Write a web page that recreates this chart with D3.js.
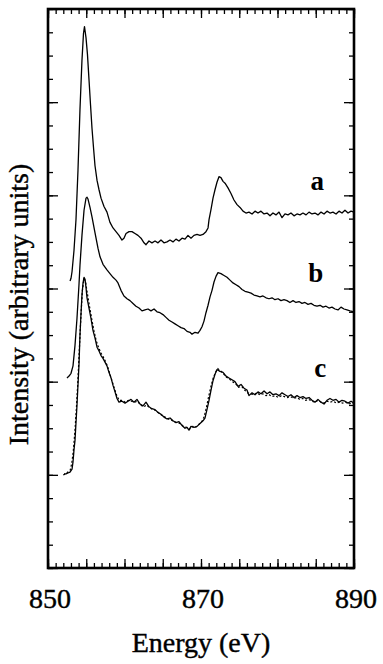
<!DOCTYPE html>
<html><head><meta charset="utf-8">
<script src="https://cdn.jsdelivr.net/npm/d3@7/dist/d3.min.js"></script>
<style>
html,body{margin:0;padding:0;background:#fff;}
svg{display:block;}
</style></head>
<body>
<script>
// ---- data ----
const xLabels = [850, 870, 890];
const seriesNames = ["a", "b", "c"];
const labelPos = [[885.2, 4.06], [885.0, 3.07], [885.6, 2.05]];

const seriesA = [
[852.88,3.08],[853.01,3.11],[853.14,3.18],[853.40,3.41],[853.66,3.74],[853.92,4.27],[854.18,4.92],[854.44,5.45],[854.64,5.74],[854.77,5.81],[854.97,5.69],[855.16,5.51],[855.36,5.24],[855.56,4.97],[855.75,4.72],[855.95,4.51],[856.14,4.32],[856.41,4.16],[856.67,4.06],[856.93,3.97],[857.32,3.88],[857.71,3.82],[858.10,3.71],[858.50,3.65],[858.89,3.61],[859.28,3.57],[859.67,3.52],[859.93,3.54],[860.20,3.59],[860.59,3.61],[860.98,3.61],[861.37,3.59],[861.76,3.57],[862.16,3.54],[862.55,3.49],[862.81,3.47],[863.20,3.51],[863.59,3.49],[863.99,3.51],[864.38,3.49],[864.77,3.52],[865.16,3.49],[865.56,3.50],[865.95,3.52],[866.34,3.50],[866.73,3.53],[867.12,3.51],[867.52,3.54],[867.91,3.53],[868.30,3.57],[868.69,3.54],[869.08,3.57],[869.48,3.58],[869.87,3.57],[870.26,3.58],[870.65,3.61],[870.92,3.65],[871.05,3.74],[871.31,3.85],[871.57,3.97],[871.83,4.06],[872.09,4.14],[872.35,4.20],[872.61,4.19],[872.88,4.15],[873.14,4.13],[873.53,4.08],[873.92,4.02],[874.31,3.95],[874.71,3.90],[875.10,3.87],[875.49,3.83],[875.88,3.81],[876.27,3.82],[876.67,3.80],[877.06,3.83],[877.45,3.81],[877.84,3.83],[878.24,3.80],[878.63,3.81],[879.02,3.78],[879.41,3.81],[879.80,3.79],[880.20,3.82],[880.59,3.76],[880.98,3.80],[881.37,3.79],[881.76,3.81],[882.16,3.78],[882.55,3.80],[882.94,3.79],[883.33,3.81],[883.73,3.79],[884.12,3.82],[884.51,3.80],[884.90,3.81],[885.29,3.79],[885.69,3.82],[886.08,3.80],[886.47,3.83],[886.86,3.81],[887.25,3.82],[887.65,3.80],[888.04,3.83],[888.43,3.81],[888.82,3.84],[889.22,3.81],[889.61,3.83],[890.00,3.82]
];

const seriesB = [
[852.48,2.04],[852.75,2.06],[853.01,2.09],[853.27,2.17],[853.53,2.39],[853.79,2.68],[854.05,3.04],[854.18,3.25],[854.44,3.57],[854.71,3.84],[854.97,3.97],[855.10,3.98],[855.23,3.96],[855.49,3.87],[855.75,3.77],[856.14,3.60],[856.54,3.43],[856.80,3.34],[857.19,3.26],[857.71,3.20],[858.10,3.16],[858.50,3.12],[858.89,3.09],[859.15,3.06],[859.54,2.98],[859.93,2.92],[860.33,2.89],[860.72,2.87],[861.11,2.84],[861.50,2.81],[861.90,2.79],[862.29,2.76],[862.68,2.77],[863.07,2.78],[863.46,2.76],[863.86,2.78],[864.25,2.75],[864.64,2.74],[865.03,2.72],[865.42,2.69],[865.82,2.66],[866.21,2.64],[866.60,2.62],[866.99,2.60],[867.39,2.58],[867.78,2.57],[868.17,2.54],[868.56,2.53],[868.82,2.51],[869.22,2.53],[869.61,2.52],[869.87,2.55],[870.13,2.59],[870.39,2.65],[870.65,2.74],[870.92,2.82],[871.18,2.91],[871.44,2.98],[871.70,3.07],[871.96,3.13],[872.22,3.17],[872.61,3.16],[873.01,3.14],[873.40,3.12],[873.79,3.09],[874.18,3.06],[874.58,3.04],[874.97,3.02],[875.36,2.99],[875.75,2.97],[876.14,2.96],[876.54,2.95],[876.93,2.93],[877.32,2.92],[877.71,2.91],[878.10,2.92],[878.50,2.90],[878.89,2.89],[879.28,2.90],[879.67,2.88],[880.07,2.89],[880.46,2.87],[880.85,2.88],[881.24,2.87],[881.63,2.85],[882.03,2.87],[882.42,2.85],[882.81,2.86],[883.20,2.84],[883.59,2.85],[883.99,2.83],[884.38,2.84],[884.77,2.82],[885.16,2.81],[885.56,2.82],[885.95,2.80],[886.34,2.81],[886.73,2.79],[887.12,2.80],[887.52,2.78],[887.91,2.77],[888.30,2.80],[888.69,2.78],[889.08,2.77],[889.48,2.76],[890.00,2.75]
];

const seriesC = [
[852.09,1.01],[852.35,1.01],[852.61,1.02],[852.88,1.03],[853.14,1.06],[853.27,1.14],[853.40,1.27],[853.53,1.37],[853.79,1.75],[854.05,2.18],[854.18,2.50],[854.31,2.72],[854.44,2.93],[854.58,3.06],[854.71,3.12],[854.84,3.10],[854.97,3.01],[855.10,2.90],[855.36,2.79],[855.62,2.68],[855.88,2.55],[856.14,2.47],[856.41,2.37],[856.67,2.33],[856.93,2.28],[857.19,2.25],[857.45,2.21],[857.71,2.17],[857.97,2.10],[858.24,2.04],[858.50,1.96],[858.76,1.89],[859.02,1.82],[859.28,1.78],[859.67,1.79],[860.07,1.77],[860.46,1.79],[860.85,1.81],[861.24,1.78],[861.63,1.81],[862.03,1.76],[862.42,1.74],[862.81,1.78],[863.20,1.73],[863.59,1.71],[863.99,1.70],[864.38,1.67],[864.77,1.65],[865.16,1.62],[865.56,1.60],[865.95,1.61],[866.34,1.58],[866.73,1.56],[867.12,1.57],[867.52,1.53],[867.91,1.50],[868.17,1.51],[868.43,1.48],[868.69,1.52],[869.08,1.51],[869.48,1.52],[869.87,1.55],[870.26,1.58],[870.52,1.61],[870.78,1.70],[871.05,1.80],[871.31,1.91],[871.57,2.01],[871.83,2.08],[872.09,2.13],[872.48,2.11],[872.88,2.10],[873.27,2.06],[873.66,2.04],[874.05,2.02],[874.44,2.00],[874.84,1.95],[875.23,1.97],[875.62,1.93],[876.01,1.91],[876.27,1.85],[876.67,1.88],[877.06,1.86],[877.45,1.89],[877.84,1.87],[878.24,1.90],[878.63,1.87],[879.02,1.89],[879.41,1.86],[879.80,1.87],[880.20,1.85],[880.59,1.88],[880.98,1.86],[881.37,1.84],[881.76,1.86],[882.16,1.83],[882.55,1.85],[882.94,1.83],[883.33,1.84],[883.73,1.82],[884.12,1.83],[884.51,1.80],[884.90,1.78],[885.29,1.81],[885.69,1.78],[886.08,1.76],[886.47,1.80],[886.86,1.82],[887.25,1.80],[887.65,1.81],[888.04,1.78],[888.43,1.80],[888.82,1.79],[889.22,1.77],[889.61,1.79],[890.00,1.77]
];

const seriesCfit = [
[852.0,1.00],[852.3,1.01],[852.6,1.03],[852.9,1.05],[853.1,1.12],[853.3,1.25],[853.5,1.45],[853.7,1.70],[853.9,2.00],[854.1,2.35],[854.3,2.70],[854.5,2.98],[854.7,3.10],[854.9,3.08],[855.1,2.97],[855.4,2.82],[855.7,2.68],[856.0,2.55],[856.3,2.44],[856.6,2.37],[856.9,2.31],[857.2,2.27],[857.5,2.22],[857.8,2.16],[858.1,2.08],[858.4,2.00],[858.7,1.92],[859.0,1.85],[859.3,1.80],[859.7,1.80],[860.1,1.78],[860.5,1.80],[860.9,1.79],[861.3,1.78],[861.7,1.79],[862.1,1.75],[862.5,1.73],[862.9,1.75],[863.3,1.72],[863.7,1.70],[864.1,1.69],[864.5,1.66],[864.9,1.64],[865.3,1.62],[865.7,1.60],[866.1,1.59],[866.5,1.57],[866.9,1.56],[867.3,1.55],[867.7,1.52],[868.1,1.51],[868.5,1.49],[868.9,1.52],[869.3,1.51],[869.7,1.54],[870.1,1.57],[870.4,1.62],[870.7,1.72],[871.0,1.84],[871.3,1.95],[871.6,2.04],[871.9,2.10],[872.2,2.14],[872.5,2.12],[872.9,2.09],[873.3,2.05],[873.7,2.03],[874.1,2.00],[874.5,1.98],[874.9,1.94],[875.3,1.95],[875.7,1.91],[876.1,1.88],[876.5,1.87],[876.9,1.86],[877.3,1.88],[877.7,1.86],[878.1,1.87],[878.5,1.85],[878.9,1.86],[879.3,1.84],[879.7,1.85],[880.1,1.83],[880.5,1.85],[880.9,1.84],[881.3,1.83],[881.7,1.84],[882.1,1.82],[882.5,1.83],[882.9,1.81],[883.3,1.82],[883.7,1.80],[884.1,1.81],[884.5,1.79],[884.9,1.78],[885.3,1.80],[885.7,1.78],[886.1,1.77],[886.5,1.79],[886.9,1.78],[887.3,1.79],[887.7,1.77],[888.1,1.78],[888.5,1.77],[888.9,1.78],[889.3,1.76],[889.7,1.77],[890.0,1.76]
];

// ---- chart ----
const W = 383, H = 664;
const svg = d3.select("body").append("svg").attr("width", W).attr("height", H);
const x = d3.scaleLinear().domain([850, 890]).range([48, 354]);
const y = d3.scaleLinear().domain([0, 6]).range([568, 9]);
const FONT = "'Liberation Serif','Times New Roman',serif";

const xMinor = d3.range(850, 891, 1), xMajor = d3.range(850, 891, 5);
const yMinor = d3.range(0, 6.001, 0.25), yMajor = d3.range(0, 7, 1);

function addAxis(gen, tr, vals, size) {
  const g = svg.append("g").attr("transform", tr)
    .call(gen.tickValues(vals).tickSize(size).tickFormat(""));
  g.select(".domain").remove();
  g.selectAll("line").attr("stroke", "#000").attr("stroke-width", 1.3);
}
addAxis(d3.axisBottom(x), `translate(0,${y(0)})`, xMinor, -5);
addAxis(d3.axisBottom(x), `translate(0,${y(0)})`, xMajor, -9);
addAxis(d3.axisTop(x), `translate(0,${y(6)})`, xMinor, -5);
addAxis(d3.axisTop(x), `translate(0,${y(6)})`, xMajor, -9);
addAxis(d3.axisLeft(y), `translate(${x(850)},0)`, yMinor, -5);
addAxis(d3.axisLeft(y), `translate(${x(850)},0)`, yMajor, -10);
addAxis(d3.axisRight(y), `translate(${x(890)},0)`, yMinor, -5);
addAxis(d3.axisRight(y), `translate(${x(890)},0)`, yMajor, -10);

// frame
svg.append("rect")
  .attr("x", x(850)).attr("y", y(6))
  .attr("width", x(890) - x(850)).attr("height", y(0) - y(6))
  .attr("fill", "none").attr("stroke", "#000").attr("stroke-width", 2.6);

// x tick labels
svg.append("g").selectAll("text").data(xLabels).join("text")
  .attr("x", d => x(d) + 2).attr("y", 608)
  .attr("text-anchor", "middle")
  .attr("font-family", FONT).attr("font-size", 28)
  .attr("stroke", "#000").attr("stroke-width", 0.4)
  .text(d => d);

svg.append("text").attr("x", (x(850) + x(890)) / 2).attr("y", 652)
  .attr("text-anchor", "middle").attr("font-family", FONT).attr("font-size", 28)
  .attr("stroke", "#000").attr("stroke-width", 0.4)
  .text("Energy (eV)");

svg.append("text")
  .attr("transform", `translate(28,${(y(0) + y(6)) / 2 + 16}) rotate(-90)`)
  .attr("text-anchor", "middle").attr("font-family", FONT).attr("font-size", 28)
  .attr("stroke", "#000").attr("stroke-width", 0.4)
  .text("Intensity (arbitrary units)");

// curves
const line = d3.line().x(d => x(d[0])).y(d => y(d[1]));
svg.append("path").datum(seriesCfit).attr("d", line)
  .attr("fill", "none").attr("stroke", "#000").attr("stroke-width", 1.2)
  .attr("stroke-dasharray", "2,2");
[seriesA, seriesB, seriesC].forEach(s => {
  svg.append("path").datum(s).attr("d", line)
    .attr("fill", "none").attr("stroke", "#000").attr("stroke-width", 1.3)
    .attr("stroke-linejoin", "round");
});

// series labels
svg.append("g").selectAll("text").data(seriesNames).join("text")
  .attr("x", (d, i) => x(labelPos[i][0])).attr("y", (d, i) => y(labelPos[i][1]))
  .attr("text-anchor", "middle").attr("font-family", FONT)
  .attr("font-size", 27).attr("font-weight", "bold")
  .text(d => d);
</script>
</body></html>
